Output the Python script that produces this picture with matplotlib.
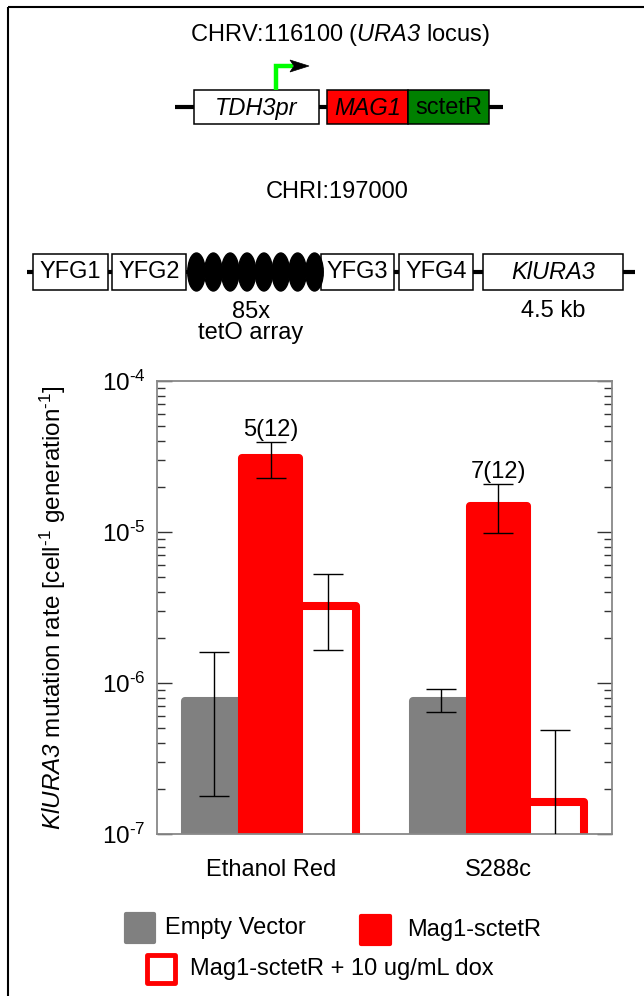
import numpy as np
import matplotlib
matplotlib.use("Agg")
import matplotlib.pyplot as plt
from matplotlib.patches import Rectangle, Ellipse, Polygon
from matplotlib.ticker import FuncFormatter

plt.rcParams['font.family'] = ['Liberation Sans', 'DejaVu Sans']
plt.rcParams['mathtext.fontset'] = 'custom'
plt.rcParams['mathtext.rm'] = 'Liberation Sans'
plt.rcParams['mathtext.it'] = 'Liberation Sans:italic'
plt.rcParams['mathtext.sf'] = 'Liberation Sans:italic'
plt.rcParams['font.size'] = 17

# data
strains = ['Ethanol Red', 'S288c']
empty_vec = [7.6e-7, 7.6e-7]
empty_lo = [1.79e-7, 6.43e-7]
empty_hi = [1.60e-6, 9.1e-7]
mag1 = [3.09e-5, 1.49e-5]
mag1_lo = [2.28e-5, 9.85e-6]
mag1_hi = [3.95e-5, 2.08e-5]
mag1_dox = [3.26e-6, 1.64e-7]
dox_lo = [1.66e-6, 5e-8]
dox_hi = [5.27e-6, 4.89e-7]
counts = ['5(12)', '7(12)']

top_genes = ['TDH3pr', 'MAG1', 'sctetR']
bottom_genes = ['YFG1', 'YFG2', 'YFG3', 'YFG4', 'KlURA3']
legend_labels = ['Empty Vector', 'Mag1-sctetR', 'Mag1-sctetR + 10 ug/mL dox']

GREY = '#808080'
RED = '#ff0000'

fig = plt.figure(figsize=(6.44, 9.96), dpi=100)

# overlay axes in pixel coordinates for the schematic + legend
dg = fig.add_axes([0, 0, 1, 1], zorder=0)
dg.set_xlim(0, 644)
dg.set_ylim(996, 0)
dg.axis('off')

# outer frame
dg.add_patch(Rectangle((8, 7), 700, 1100, fill=False, ec='black', lw=1.5))

# --- construct at URA3 locus ---
dg.text(340, 35, 'CHRV:116100 ($\\mathsf{URA3}$ locus)', ha='center', va='center')
dg.plot([175, 503], [107, 107], color='black', lw=3, solid_capstyle='butt', zorder=1)
boxes = [(194, 319, 'white', top_genes[0], True),
         (327, 408, RED, top_genes[1], True),
         (408, 489, '#008000', top_genes[2], False)]
for x0, x1, fc, lab, it in boxes:
    dg.add_patch(Rectangle((x0, 90), x1 - x0, 34, fc=fc, ec='black', lw=1.1, zorder=2))
    dg.text((x0 + x1) / 2, 108, lab, ha='center', va='center',
            style='italic' if it else 'normal', zorder=3)
# promoter arrow
dg.plot([276, 276, 293], [90, 66, 66], color='#00ff00', lw=3.2,
        solid_joinstyle='miter', solid_capstyle='butt', zorder=3)
dg.add_patch(Polygon([(290, 60), (309, 66), (290, 72), (294, 66)],
                     closed=True, fc='black', ec='black', lw=0.5, zorder=4))

# --- tetO array locus ---
dg.text(337, 192, 'CHRI:197000', ha='center', va='center')
dg.plot([27, 635], [272, 272], color='black', lw=3, solid_capstyle='butt', zorder=1)
gene_x = [(33, 108), (112, 186), (321, 394), (399, 473), (483, 623)]
for (x0, x1), lab in zip(gene_x, bottom_genes):
    dg.add_patch(Rectangle((x0, 254), x1 - x0, 36, fc='white', ec='black', lw=1.1, zorder=2))
    dg.text((x0 + x1) / 2, 272, lab, ha='center', va='center',
            style='italic' if lab == 'KlURA3' else 'normal', zorder=3)
for cx in np.linspace(196.5, 314.5, 8):
    dg.add_patch(Ellipse((cx, 272), 17.5, 38, fc='black', ec='black', zorder=2))
dg.text(251, 312, '85x', ha='center', va='center')
dg.text(251, 333, 'tetO array', ha='center', va='center')
dg.text(553, 311, '4.5 kb', ha='center', va='center')

# --- legend ---
dg.add_patch(Rectangle((126, 914), 28, 28, fc=GREY, ec=GREY, lw=3, joinstyle='round'))
dg.text(165, 928, legend_labels[0], ha='left', va='center')
dg.add_patch(Rectangle((361, 916), 29, 28, fc=RED, ec=RED, lw=3, joinstyle='round'))
dg.text(407, 930, legend_labels[1], ha='left', va='center')
dg.add_patch(Rectangle((147, 955), 28, 28, fc='white', ec=RED, lw=3.5, joinstyle='round'))
dg.text(190, 969, legend_labels[2], ha='left', va='center')

# --- bar chart ---
ax = fig.add_axes([157 / 644, 1 - 834 / 996, 455 / 644, 453 / 996], zorder=1)
x = np.arange(len(strains))
w = 0.25
edge = 5.8

ax.bar(x - w, empty_vec, w, color=GREY, ec=GREY, lw=edge, joinstyle='round', zorder=2)
ax.bar(x, mag1, w, color=RED, ec=RED, lw=edge, joinstyle='round', zorder=2)
ax.bar(x + w, mag1_dox, w, color='white', ec=RED, lw=edge, joinstyle='round', zorder=2)

err_kw = dict(fmt='none', ecolor='black', elinewidth=1.0, capsize=10.5, capthick=1.0, zorder=3)
for xs, v, lo, hi in [(x - w, empty_vec, empty_lo, empty_hi),
                      (x, mag1, mag1_lo, mag1_hi),
                      (x + w, mag1_dox, dox_lo, dox_hi)]:
    v = np.array(v)
    ax.errorbar(xs, v, yerr=[v - np.array(lo), np.array(hi) - v], **err_kw)

for xi, hi, c in zip(x, mag1_hi, counts):
    ax.annotate(c, (xi, hi), xytext=(0, 1), textcoords='offset points',
                ha='center', va='bottom')

ax.set_yscale('log')
ax.set_ylim(1e-7, 1e-4)
ax.set_xlim(-0.5, 1.5)
ax.yaxis.set_major_formatter(FuncFormatter(
    lambda v, p: '$10^{\\text{%d}}$' % round(np.log10(v))))
ax.set_xticks(x)
ax.set_xticklabels(strains)
ax.tick_params(axis='x', length=0, pad=18)
ax.tick_params(axis='y', which='both', direction='in', right=True, color='#333333', width=1.0)
ax.tick_params(axis='y', which='major', length=11, pad=8, labelsize=17.5)
ax.tick_params(axis='y', which='minor', length=6)
for s in ax.spines.values():
    s.set_color('#888888')
    s.set_linewidth(1.3)
ax.set_ylabel('$\\mathsf{KlURA3}$ mutation rate [cell$^{\\text{-1}}$ generation$^{\\text{-1}}$]',
              fontsize=17.5)
ax.yaxis.set_label_coords(-0.196, 0.5)

fig.savefig('out.png', dpi=100)
